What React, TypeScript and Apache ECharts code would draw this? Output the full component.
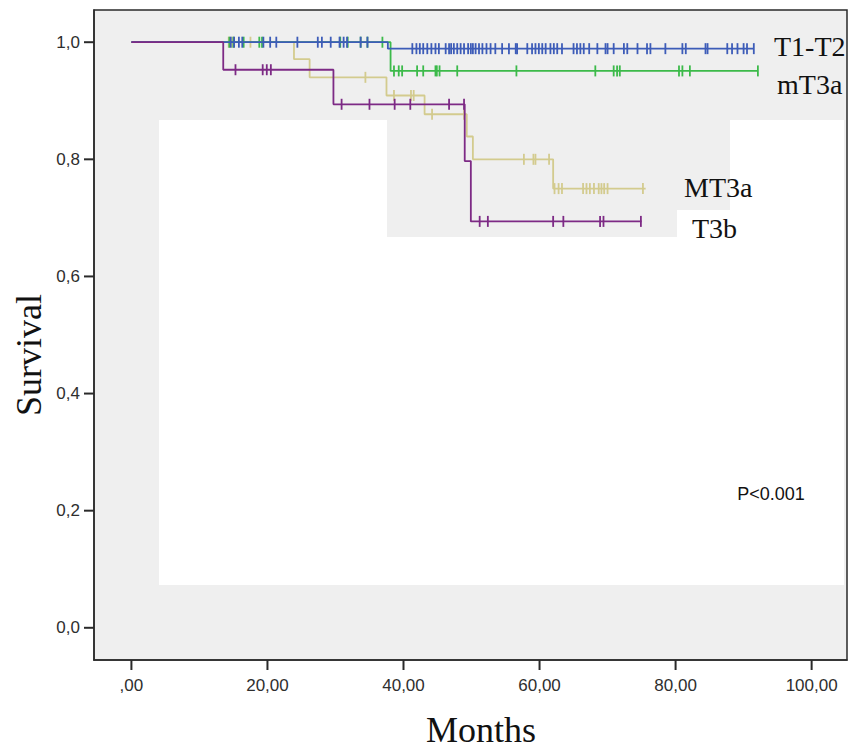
import React, { useEffect, useRef } from "react";
import * as echarts from "echarts";

// ---- Data (months, survival) ----
const xTicks = [0, 20, 40, 60, 80, 100];
const yTicks = [0, 0.2, 0.4, 0.6, 0.8, 1.0];

// step points: [time, survival after the event at that time]; last point = end of follow-up
const stepsT1T2: [number, number][] = [[0, 1], [37.7, 0.989], [91.5, 0.989]];
const stepsMT3aSmall: [number, number][] = [[0, 1], [38.1, 0.951], [92.1, 0.951]];
const stepsMT3a: [number, number][] = [
  [0, 1], [23.9, 0.971], [26.2, 0.94], [37.5, 0.909], [43.1, 0.877],
  [49.3, 0.839], [50.2, 0.8], [62.0, 0.75], [75.6, 0.75],
];
const stepsT3b: [number, number][] = [
  [0, 1], [13.5, 0.953], [29.7, 0.894], [49.0, 0.797], [49.9, 0.694], [75.0, 0.694],
];

// censoring times
const censT1T2 = [
  14.6, 15.1, 15.8, 16.3, 19.4, 20.4, 21.3, 24.4, 27.4, 28.0, 29.3, 30.6, 31.2, 31.7, 33.7, 34.7,
  41.3, 41.9, 42.4, 42.9, 43.5, 44.1, 44.7, 45.2, 46.2, 46.7, 47.0, 47.4, 47.9, 48.4, 48.9, 49.5,
  49.9, 50.2, 50.6, 51.1, 51.6, 52.2, 52.8, 53.5, 54.5, 55.5, 56.5, 56.7, 58.2, 58.9, 59.4, 59.9,
  60.4, 60.9, 61.6, 62.1, 62.6, 63.3, 65.0, 65.5, 66.0, 66.5, 67.3, 68.5, 69.7, 70.0, 70.9, 72.4,
  72.9, 74.4, 75.8, 76.3, 78.5, 81.0, 81.5, 84.4, 84.7, 87.6, 88.3, 89.1, 90.0, 90.5, 91.5,
];
const censMT3aSmall = [
  14.4, 15.0, 16.5, 18.8, 19.2, 30.7, 31.8, 33.7, 34.7, 36.9,
  38.6, 39.3, 39.8, 42.0, 42.9, 44.7, 44.9, 45.3, 47.9, 56.6, 68.2, 70.9, 71.4, 71.8,
  80.5, 81.0, 82.1, 92.1,
];
const censMT3a = [
  14.3, 14.8, 17.5, 34.4, 38.6, 41.1, 41.5, 44.2, 48.9, 57.7, 59.1, 59.4, 61.4,
  62.2, 62.8, 63.3, 66.4, 66.9, 67.4, 68.0, 68.7, 69.1, 69.5, 70.0, 75.2,
];
const censT3b = [
  15.3, 19.3, 19.9, 20.5, 30.9, 35.0, 38.7, 41.0, 46.7, 48.9, 51.2, 52.4, 62.0, 63.5, 68.9, 69.4, 74.9,
];

const groupNames = ["MT3a", "mT3a", "T1-T2", "T3b"];
const groupColors = ["#d3cb8e", "#3cba4a", "#3d5cb8", "#7d2a85"];

function survAt(steps: [number, number][], t: number): number {
  let s = steps[0][1];
  for (const [time, v] of steps) {
    if (time <= t) s = v;
  }
  return s;
}

const fmtX = (v: number) => (v === 0 ? ",00" : v.toFixed(2).replace(".", ","));
const fmtY = (v: number) => v.toFixed(1).replace(".", ",");

export default function App() {
  const ref = useRef<HTMLDivElement>(null);
  useEffect(() => {
    if (!ref.current) return;
    const chart = echarts.init(ref.current, undefined, { renderer: "svg" });
    const groups = [
      { steps: stepsMT3a, cens: censMT3a },
      { steps: stepsMT3aSmall, cens: censMT3aSmall },
      { steps: stepsT1T2, cens: censT1T2 },
      { steps: stepsT3b, cens: censT3b },
    ];
    const series: any[] = [];
    groups.forEach((g, i) => {
      series.push({
        type: "line",
        name: groupNames[i],
        step: "end",
        data: g.steps,
        showSymbol: false,
        symbol: "none",
        z: 3 + i * 2,
        lineStyle: { color: groupColors[i], width: 1.8 },
        silent: true,
      });
      series.push({
        type: "scatter",
        name: groupNames[i] + " censored",
        data: g.cens.map((t) => [t, survAt(g.steps, t)]),
        symbol: "rect",
        symbolSize: [1.8, 11],
        z: 4 + i * 2,
        itemStyle: { color: groupColors[i], opacity: 1 },
        silent: true,
      });
    });

    const axisColor = "#2a2a2a";
    const labelStyle = {
      color: "#2e2e2e",
      fontFamily: "Liberation Sans, Arial, sans-serif",
      fontSize: 17,
    };

    const textEls: any[] = [
      {
        type: "polygon",
        z: 1,
        silent: true,
        shape: {
          points: [
            [159, 120], [387, 120], [387, 237], [677, 237], [677, 210],
            [730, 210], [730, 120], [844, 120], [844, 585], [159, 585],
          ],
        },
        style: { fill: "#ffffff" },
      },
      {
        type: "text", z: 50, x: 774, y: 46,
        style: { text: "T1-T2", font: "28px 'Liberation Serif', serif", fill: "#111", textAlign: "left", textVerticalAlign: "middle" },
      },
      {
        type: "text", z: 50, x: 777, y: 84,
        style: { text: "mT3a", font: "28px 'Liberation Serif', serif", fill: "#111", textAlign: "left", textVerticalAlign: "middle" },
      },
      {
        type: "text", z: 50, x: 684, y: 187,
        style: { text: "MT3a", font: "28px 'Liberation Serif', serif", fill: "#111", textAlign: "left", textVerticalAlign: "middle" },
      },
      {
        type: "text", z: 50, x: 692, y: 228,
        style: { text: "T3b", font: "28px 'Liberation Serif', serif", fill: "#111", textAlign: "left", textVerticalAlign: "middle" },
      },
      {
        type: "text", z: 50, x: 771, y: 494,
        style: { text: "P<0.001", font: "18px 'Liberation Sans', sans-serif", fill: "#111", textAlign: "center", textVerticalAlign: "middle" },
      },
      {
        type: "text", z: 50, x: 481, y: 730,
        style: { text: "Months", font: "36px 'Liberation Serif', serif", fill: "#111", textAlign: "center", textVerticalAlign: "middle" },
      },
      {
        type: "text", z: 50, x: 29, y: 355, rotation: Math.PI / 2,
        style: { text: "Survival", font: "36px 'Liberation Serif', serif", fill: "#111", textAlign: "center", textVerticalAlign: "middle" },
      },
    ];

    chart.setOption({
      animation: false,
      backgroundColor: "#ffffff",
      grid: {
        left: 94,
        top: 10,
        right: 2,
        bottom: 89,
        show: true,
        backgroundColor: "#efefef",
        borderColor: axisColor,
        borderWidth: 1.5,
        containLabel: false,
      },
      xAxis: {
        type: "value",
        min: -5.5,
        max: 105.2,
        axisLine: { show: true, onZero: false, lineStyle: { color: axisColor, width: 1.5 } },
        axisTick: { show: false },
        axisLabel: {
          customValues: xTicks,
          formatter: (v: number) => fmtX(v),
          margin: 17,
          ...labelStyle,
        },
        splitLine: { show: false },
      },
      yAxis: {
        type: "value",
        min: -0.055,
        max: 1.055,
        axisLine: { show: true, onZero: false, lineStyle: { color: axisColor, width: 1.5 } },
        axisTick: { show: false },
        axisLabel: {
          customValues: yTicks,
          formatter: (v: number) => fmtY(v),
          margin: 14,
          ...labelStyle,
        },
        splitLine: { show: false },
      },
      graphic: textEls,
      series,
    });

    // tick marks placed through the chart's own scales
    const tickEls: any[] = [];
    const y0 = chart.convertToPixel({ gridIndex: 0 }, [0, -0.055])[1];
    const x0 = chart.convertToPixel({ gridIndex: 0 }, [-5.5, 0])[0];
    xTicks.forEach((v) => {
      const px = chart.convertToPixel({ gridIndex: 0 }, [v, 0])[0];
      tickEls.push({
        type: "line", z: 20, silent: true,
        shape: { x1: px, y1: y0, x2: px, y2: y0 + 10 },
        style: { stroke: axisColor, lineWidth: 2 },
      });
    });
    yTicks.forEach((v) => {
      const py = chart.convertToPixel({ gridIndex: 0 }, [0, v])[1];
      tickEls.push({
        type: "line", z: 20, silent: true,
        shape: { x1: x0 - 10, y1: py, x2: x0, y2: py },
        style: { stroke: axisColor, lineWidth: 2 },
      });
    });
    chart.setOption({ graphic: [...textEls, ...tickEls] });

    return () => chart.dispose();
  }, []);
  return (
    <div
      ref={ref}
      style={{ position: "fixed", left: 0, top: 0, width: 849, height: 749, background: "#fff" }}
    />
  );
}
